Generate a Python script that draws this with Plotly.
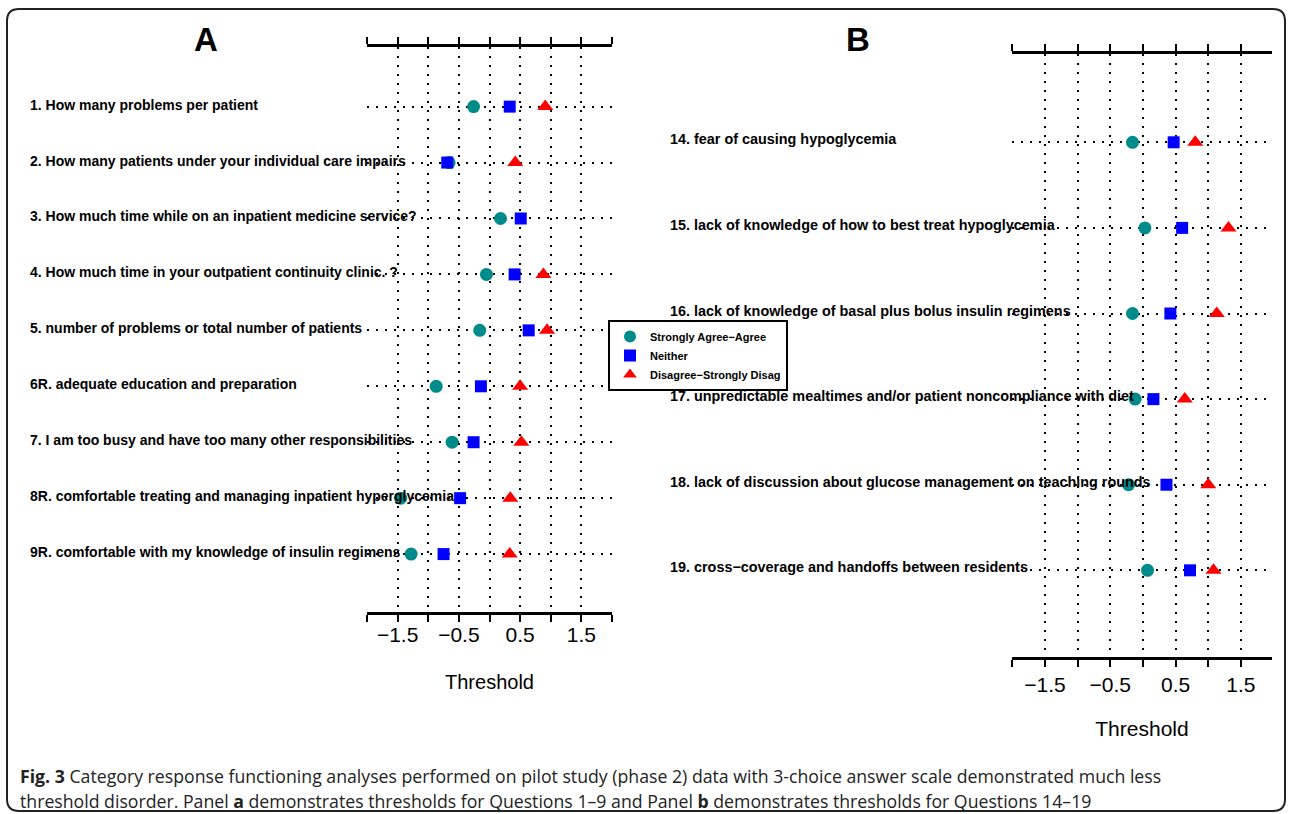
import plotly.graph_objects as go

W, H = 1292, 814

# ---------------- data ----------------
labels_a = [
    "1. How many problems per patient",
    "2. How many patients under your individual care impairs",
    "3. How much time while on an inpatient medicine service?",
    "4. How much time in your outpatient continuity clinic. ?",
    "5. number of problems or total number of patients",
    "6R. adequate education and preparation",
    "7. I am too busy and have too many other responsibilities",
    "8R. comfortable treating and managing inpatient hyperglycemia",
    "9R. comfortable with my knowledge of insulin regimens",
]
agree_a = [-0.26, -0.66, 0.18, -0.05, -0.16, -0.87, -0.61, -1.45, -1.28]
neither_a = [0.33, -0.69, 0.51, 0.41, 0.64, -0.14, -0.26, -0.48, -0.75]
disagree_a = [0.91, 0.42, None, 0.88, 0.94, 0.50, 0.52, 0.34, 0.33]

labels_b = [
    "14. fear of causing hypoglycemia",
    "15. lack of knowledge of how to best treat hypoglycemia",
    "16. lack of knowledge of basal plus bolus insulin regimens",
    "17. unpredictable mealtimes and/or patient noncompliance with diet",
    "18. lack of discussion about glucose management on teaching rounds",
    "19. cross\u2212coverage and handoffs between residents",
]
agree_b = [-0.16, 0.03, -0.16, -0.12, -0.22, 0.07]
neither_b = [0.47, 0.60, 0.42, 0.16, 0.36, 0.72]
disagree_b = [0.80, 1.31, 1.13, 0.64, 1.00, 1.08]

series_names = ["Strongly Agree\u2212Agree", "Neither", "Disagree\u2212Strongly Disag"]
tick_vals = [-2.0, -1.5, -1.0, -0.5, 0.0, 0.5, 1.0, 1.5, 2.0]
tick_text = ["", "\u22121.5", "", "\u22120.5", "", "0.5", "", "1.5", ""]

# ---------------- styles ----------------
colors = ["#008b8b", "#0000ff", "#ff0000"]
symbols = ["circle", "square", "triangle-up"]
sizes = [13, 12, 14]
LBL = "Liberation Sans, Arial, sans-serif"


def px_x(p):
    return p / W


def px_y(p):
    return 1 - p / H


fig = go.Figure()

rows_a = list(range(1, len(labels_a) + 1))
rows_b = list(range(1, len(labels_b) + 1))

for i, vals in enumerate([agree_a, neither_a, disagree_a]):
    fig.add_trace(go.Scatter(
        x=vals, y=rows_a, mode="markers", name=series_names[i],
        marker=dict(color=colors[i], symbol=symbols[i], size=sizes[i], line=dict(width=0)),
        xaxis="x", yaxis="y", showlegend=True, cliponaxis=False,
    ))
for i, vals in enumerate([agree_b, neither_b, disagree_b]):
    fig.add_trace(go.Scatter(
        x=vals, y=rows_b, mode="markers", name=series_names[i],
        marker=dict(color=colors[i], symbol=symbols[i], size=sizes[i], line=dict(width=0)),
        xaxis="x2", yaxis="y2", showlegend=False, cliponaxis=False,
    ))

xcommon = dict(
    tickmode="array", tickvals=tick_vals, ticktext=tick_text,
    showline=True, linewidth=3, linecolor="black", mirror="ticks",
    ticks="outside", ticklen=7, tickwidth=2, tickcolor="black",
    showgrid=True, gridcolor="black", gridwidth=2, griddash="2px,7px",
    zeroline=False, tickfont=dict(family=LBL, size=21, color="black"),
)
ycommon = dict(
    showticklabels=False, ticks="", showline=False, zeroline=False,
    showgrid=True, gridcolor="black", gridwidth=2, griddash="2px,7px",
    tickmode="array",
)

fig.update_layout(
    xaxis=dict(domain=[px_x(367), px_x(612)], range=[-2, 2], anchor="y",
               ticklabelstandoff=-5,
               title=dict(text="Threshold", font=dict(family=LBL, size=20, color="black"), standoff=31),
               **xcommon),
    yaxis=dict(domain=[px_y(611.7), px_y(47)], range=[10.03, -0.066], anchor="x",
               tickvals=rows_a, **ycommon),
    xaxis2=dict(domain=[px_x(1012.3), px_x(1271.7)], range=[-2, 1.971], anchor="y2",
                ticklabelstandoff=0,
                title=dict(text="Threshold", font=dict(family=LBL, size=21, color="black"), standoff=27),
                **xcommon),
    yaxis2=dict(domain=[px_y(656.7), px_y(54.3)], range=[7.009, -0.028], anchor="x2",
                tickvals=rows_b, **ycommon),
)

annotations = []
for lab, r in zip(labels_a, rows_a):
    annotations.append(dict(text=f"<b>{lab}</b>", xref="paper", yref="y", x=px_x(28), y=r,
                            xanchor="left", yanchor="middle", showarrow=False,
                            font=dict(family=LBL, size=14, color="black"), yshift=2))
for lab, r in zip(labels_b, rows_b):
    annotations.append(dict(text=f"<b>{lab}</b>", xref="paper", yref="y2", x=px_x(668), y=r,
                            xanchor="left", yanchor="middle", showarrow=False,
                            font=dict(family=LBL, size=14.4, color="black"), yshift=3))
annotations.append(dict(text="<b>A</b>", xref="paper", yref="paper", x=px_x(206), y=px_y(40),
                        xanchor="center", yanchor="middle", showarrow=False,
                        font=dict(family=LBL, size=33, color="black")))
annotations.append(dict(text="<b>B</b>", xref="paper", yref="paper", x=px_x(858), y=px_y(40),
                        xanchor="center", yanchor="middle", showarrow=False,
                        font=dict(family=LBL, size=33, color="black")))
CAP = "Open Sans, sans-serif"
annotations.append(dict(
    text="<b>Fig. 3</b> Category response functioning analyses performed on pilot study (phase 2) data with 3-choice answer scale demonstrated much less",
    xref="paper", yref="paper", x=px_x(18), y=px_y(776), xanchor="left", yanchor="middle",
    showarrow=False, font=dict(family=CAP, size=17.7, color="#222")))
annotations.append(dict(
    text="threshold disorder. Panel <b>a</b> demonstrates thresholds for Questions 1\u20139 and Panel <b>b</b> demonstrates thresholds for Questions 14\u201319",
    xref="paper", yref="paper", x=px_x(18), y=px_y(801), xanchor="left", yanchor="middle",
    showarrow=False, font=dict(family=CAP, size=17.7, color="#222")))

# rounded frame
x0, y0, x1, y1, r = 7, 9, 1285, 811, 12
path = (f"M {px_x(x0 + r)},{px_y(y0)} L {px_x(x1 - r)},{px_y(y0)} "
        f"Q {px_x(x1)},{px_y(y0)} {px_x(x1)},{px_y(y0 + r)} "
        f"L {px_x(x1)},{px_y(y1 - r)} Q {px_x(x1)},{px_y(y1)} {px_x(x1 - r)},{px_y(y1)} "
        f"L {px_x(x0 + r)},{px_y(y1)} Q {px_x(x0)},{px_y(y1)} {px_x(x0)},{px_y(y1 - r)} "
        f"L {px_x(x0)},{px_y(y0 + r)} Q {px_x(x0)},{px_y(y0)} {px_x(x0 + r)},{px_y(y0)} Z")

fig.update_layout(
    width=W, height=H, margin=dict(l=0, r=0, t=0, b=0),
    paper_bgcolor="white", plot_bgcolor="white",
    annotations=annotations,
    shapes=[dict(type="path", path=path, xref="paper", yref="paper",
                 line=dict(color="#222", width=2), fillcolor="rgba(0,0,0,0)", layer="below")],
    legend=dict(x=px_x(608), y=px_y(320), xanchor="left", yanchor="top",
                bgcolor="white", bordercolor="black", borderwidth=2,
                font=dict(family=LBL, size=11, color="black", weight="bold"),
                itemsizing="constant", tracegroupgap=0),
    showlegend=True,
)

fig.write_html("out.html")
